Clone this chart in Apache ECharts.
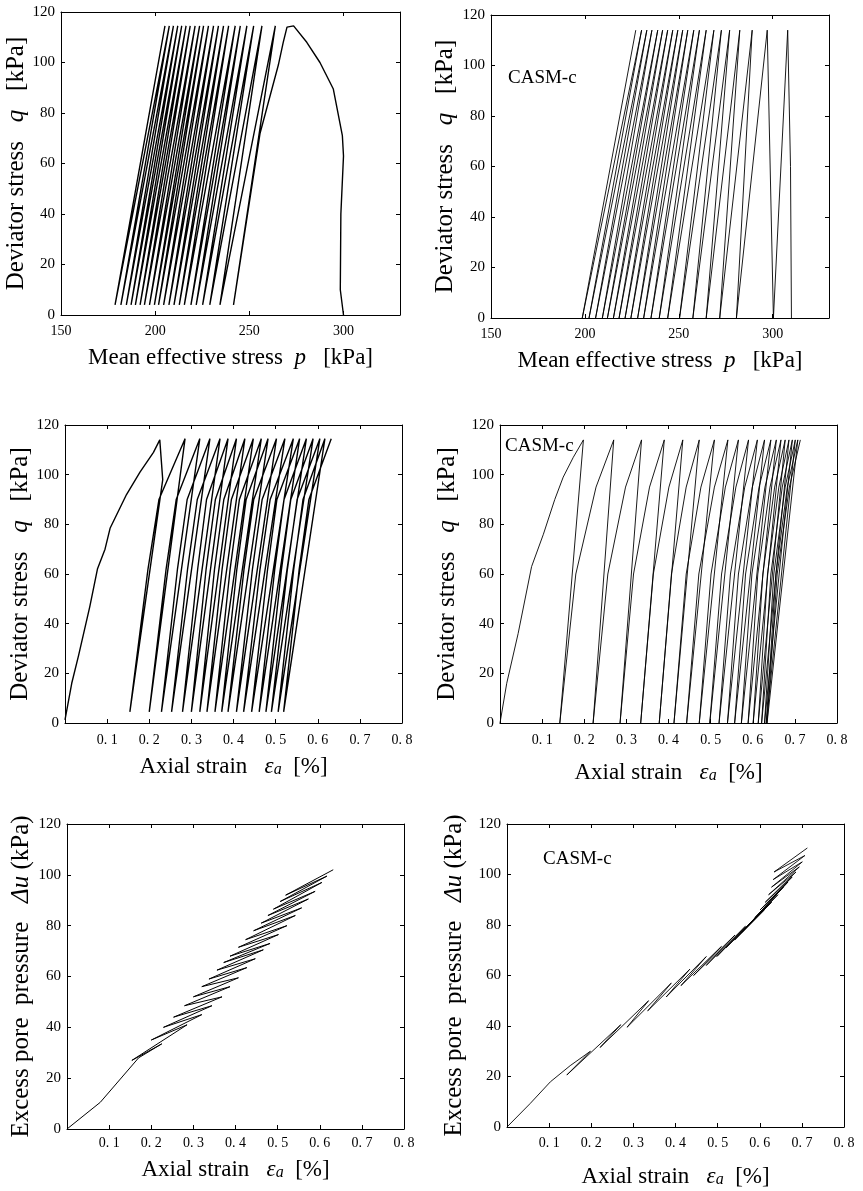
<!DOCTYPE html>
<html><head><meta charset="utf-8">
<script src="https://cdn.jsdelivr.net/npm/echarts/dist/echarts.min.js"></script>
<style>html,body{margin:0;padding:0;background:#fff}#c{width:863px;height:1191px}</style>
</head><body><div id="c"></div>
<script>
const FONT = 'Liberation Serif';

// ---------- Panel 1: test, mean effective stress p vs deviator stress q ----------
const P1_INIT_P = [300, 298.3, 298.6, 300, 299.4, 294.6, 287.5, 280.5, 273.5, 270, 268, 265.4, 255.7];
const P1_INIT_Q = [0, 10, 40, 63, 71, 89.5, 100, 108, 114.5, 114, 108, 99, 72];
const P1_BOT_P = [241.6, 234.4, 229.0, 225.2, 221.8, 219.0, 215.5, 212.8, 210.0, 207.3, 204.5, 201.8, 199.6, 197.0, 194.3, 192.0, 189.5, 187.2, 184.7, 181.8, 178.7];
const P1_TOP_P = [263.8, 256.7, 252.3, 248.7, 245.2, 242.5, 239.0, 236.3, 233.6, 231.0, 228.3, 225.7, 223.6, 221.2, 218.6, 216.4, 214.1, 212.0, 209.7, 207.5, 205.2];
const P1_BOT_Q = 4;
const P1_TOP_Q = 114.5;

// ---------- Panel 2: CASM-c, p vs q ----------
const P2_INIT_P = [310, 309.5, 308.0];
const P2_INIT_Q = [0, 60, 114];
const P2_BOT_P = [300.4, 280.7, 271.8, 264.6, 257.5, 250.4, 244.1, 239.6, 235.2, 231.3, 228.1, 224.5, 221.4, 218.2, 215.2, 212.0, 209.3, 205.7, 202.2, 198.6];
const P2_TOP_P = [297.1, 289.1, 282.5, 277.1, 272.7, 268.7, 264.6, 261.0, 258.0, 254.8, 252.1, 249.5, 246.8, 244.1, 241.4, 238.8, 235.7, 233.0, 230.2, 227.1];
const P2_BOT_Q = 0;
const P2_TOP_Q = 114;

// ---------- Panel 3: test, axial strain vs q ----------
const P3_INIT_E = [0, 0.016, 0.032, 0.059, 0.077, 0.095, 0.107, 0.146, 0.178, 0.21, 0.225, 0.232];
const P3_INIT_Q = [1.3, 16, 27, 47, 62, 70, 78.4, 92, 101, 109, 114, 98];
const P3_BOT_E = [0.154, 0.200, 0.229, 0.253, 0.279, 0.300, 0.320, 0.337, 0.356, 0.372, 0.387, 0.407, 0.424, 0.443, 0.461, 0.477, 0.490, 0.506, 0.519];
const P3_MID_E = [0.197, 0.240, 0.267, 0.291, 0.315, 0.335, 0.355, 0.373, 0.392, 0.408, 0.425, 0.445, 0.463, 0.481, 0.498, 0.514, 0.528, 0.543, 0.556];
const P3_MID2_E = [0.223, 0.264, 0.290, 0.314, 0.336, 0.357, 0.377, 0.395, 0.414, 0.430, 0.448, 0.468, 0.487, 0.503, 0.520, 0.536, 0.551, 0.565, 0.579];
const P3_TOP_E = [0.285, 0.320, 0.344, 0.368, 0.387, 0.407, 0.427, 0.447, 0.466, 0.482, 0.502, 0.522, 0.542, 0.557, 0.573, 0.589, 0.605, 0.617, 0.632];
const P3_BOT_Q = 4.5;
const P3_MID_Q = 62;
const P3_MID2_Q = 90;
const P3_TOP_Q = 114.5;

// ---------- Panel 4: CASM-c, axial strain vs q ----------
const P4_INIT_E = [0, 0.016, 0.043, 0.075, 0.103, 0.130, 0.150, 0.174, 0.198];
const P4_INIT_Q = [0, 16, 36, 63, 76, 90, 99, 107, 114];
const P4_BOT_E = [0.142, 0.221, 0.285, 0.334, 0.378, 0.413, 0.443, 0.473, 0.498, 0.520, 0.540, 0.557, 0.573, 0.589, 0.601, 0.613, 0.621, 0.628, 0.632, 0.634];
const P4_MID_E = [0.180, 0.256, 0.317, 0.364, 0.407, 0.442, 0.472, 0.501, 0.526, 0.547, 0.566, 0.583, 0.598, 0.612, 0.624, 0.635, 0.643, 0.650, 0.655, 0.658];
const P4_MID2_E = [0.228, 0.298, 0.355, 0.401, 0.442, 0.477, 0.509, 0.535, 0.560, 0.581, 0.599, 0.615, 0.629, 0.641, 0.652, 0.662, 0.670, 0.677, 0.682, 0.687];
const P4_TOP_E = [0.270, 0.336, 0.390, 0.434, 0.473, 0.509, 0.541, 0.566, 0.590, 0.611, 0.628, 0.643, 0.656, 0.667, 0.677, 0.686, 0.694, 0.701, 0.707, 0.713];
const P4_BOT_Q = 0;
const P4_MID_Q = 60;
const P4_MID2_Q = 95;
const P4_TOP_Q = 114;

// ---------- Panel 5: test, axial strain vs excess pore pressure ----------
const P5_INIT_E = [0, 0.079, 0.170, 0.225];
const P5_INIT_U = [0, 10.5, 28, 33.5];
const P5_BOT_U = [27, 35, 40, 44, 48.5, 52, 56, 59, 62.5, 65.5, 68, 71.5, 74.5, 78, 81, 84, 86.5, 89.5, 92];
const P5_TOP_U = [41, 45, 48.5, 52, 56, 59.5, 63.5, 67, 70.5, 73, 76.5, 80, 84, 87, 90.5, 93.5, 97, 99.5, 102];

// ---------- Panel 6: CASM-c, axial strain vs excess pore pressure ----------
const P6_INIT_E = [0, 0.055, 0.103, 0.150, 0.198];
const P6_INIT_U = [0, 9.3, 17.9, 24.3, 30];
const P6_BOT_U = [20.6, 31.5, 39.5, 46, 51.5, 56, 60, 64, 67.5, 71, 74, 77, 80, 83, 86, 89, 92, 95, 98, 101];
const P6_TOP_U = [40.5, 50, 57, 62.5, 67.5, 71.5, 76, 79.5, 83, 86, 89, 92, 95, 97, 99, 101, 103, 105, 107.5, 110.5];

// ---------- tick labels / titles ----------
const Y_TICKS = [0, 20, 40, 60, 80, 100, 120];
const P_TICKS = [150, 200, 250, 300];
const E_TICKS = ['0. 1', '0. 2', '0. 3', '0. 4', '0. 5', '0. 6', '0. 7', '0. 8'];
const NAME_P = '{r|Mean effective stress  }{i|p}{r|   [kPa]}';
const NAME_Q = '{r|Deviator stress   }{i|q}{r|   [kPa]}';
const NAME_E = '{r|Axial strain   }{i|ε}{s|a}{r|  [%]}';
const NAME_U = '{r|Excess pore  pressure   }{i|Δu}{r| (kPa)}';
const MODEL_LABEL = 'CASM-c';

// path: initial branch, then per cycle bottom -> (intermediate points) -> top
function cyc(initX, initY, bx, by, tx, ty, mids) {
  const d = initX.map((x, i) => [x, initY[i]]);
  for (let i = 0; i < bx.length; i++) {
    d.push([bx[i], Array.isArray(by) ? by[i] : by]);
    (mids || []).forEach(m => d.push([m[0][i], m[1]]));
    d.push([tx[i], Array.isArray(ty) ? ty[i] : ty]);
  }
  return d;
}

const grids = [
  {left: 61, top: 12, width: 339, height: 303},
  {left: 491, top: 15, width: 338, height: 303},
  {left: 65, top: 425, width: 337, height: 298},
  {left: 500, top: 425, width: 337, height: 298},
  {left: 67, top: 824, width: 337, height: 305},
  {left: 507, top: 824, width: 337, height: 303}
];

const nameStyle = (fs) => ({
  color: '#000', fontFamily: FONT, fontSize: fs,
  rich: {
    r: {color: '#000', fontFamily: FONT, fontSize: fs},
    i: {color: '#000', fontFamily: FONT, fontSize: fs, fontStyle: 'italic'},
    s: {color: '#000', fontFamily: FONT, fontSize: Math.round(fs * 0.68), fontStyle: 'italic', verticalAlign: 'bottom'}
  }
});

const pFmt = v => (P_TICKS.indexOf(Math.round(v)) >= 0 ? String(Math.round(v)) : '');
const eFmt = v => { const k = Math.round(v * 10); return k >= 1 && k <= 8 ? E_TICKS[k - 1] : ''; };
const yFmt = v => (Y_TICKS.indexOf(Math.round(v)) >= 0 ? String(Math.round(v)) : '');

const panelCfg = [
  {xmin: 150, xmax: 330, xint: 50, fmt: pFmt, xname: NAME_P, xgap: 31, lm: 9, yname: NAME_Q, ygap: 31, fs: 25},
  {xmin: 150, xmax: 330, xint: 50, fmt: pFmt, xname: NAME_P, xgap: 31, lm: 9, yname: NAME_Q, ygap: 33, fs: 25},
  {xmin: 0, xmax: 0.8, xint: 0.1, fmt: eFmt, xname: NAME_E, xgap: 32, lm: 10, yname: NAME_Q, ygap: 29, fs: 25},
  {xmin: 0, xmax: 0.8, xint: 0.1, fmt: eFmt, xname: NAME_E, xgap: 38, lm: 10, yname: NAME_Q, ygap: 40, fs: 25},
  {xmin: 0, xmax: 0.8, xint: 0.1, fmt: eFmt, xname: NAME_E, xgap: 29, lm: 7, yname: NAME_U, ygap: 33, fs: 25},
  {xmin: 0, xmax: 0.8, xint: 0.1, fmt: eFmt, xname: NAME_E, xgap: 38, lm: 9, yname: NAME_U, ygap: 40, fs: 25}
];

const xAxes = [], yAxes = [];
panelCfg.forEach((c, i) => {
  const common = {
    gridIndex: i, type: 'value', splitLine: {show: false},
    axisLine: {show: true, onZero: false, lineStyle: {color: '#000', width: 1}},
    axisTick: {show: true, inside: true, length: 4, lineStyle: {color: '#000', width: 1}}
  };
  xAxes.push(Object.assign({}, common, {
    min: c.xmin, max: c.xmax, interval: c.xint, position: 'bottom',
    axisLabel: {color: '#000', fontFamily: FONT, fontSize: 14, margin: c.lm, formatter: c.fmt},
    name: c.xname, nameLocation: 'middle', nameGap: c.xgap, nameTextStyle: nameStyle(23)
  }));
  xAxes.push(Object.assign({}, common, {
    min: c.xmin, max: c.xmax, interval: c.xint, position: 'top', axisLabel: {show: false}
  }));
  yAxes.push(Object.assign({}, common, {
    min: 0, max: 120, interval: 20, position: 'left',
    axisLabel: {color: '#000', fontFamily: FONT, fontSize: 15, margin: 6, formatter: yFmt},
    name: c.yname, nameLocation: 'middle', nameGap: c.ygap, nameRotate: 90, nameTextStyle: nameStyle(c.fs)
  }));
  yAxes.push(Object.assign({}, common, {
    min: 0, max: 120, interval: 20, position: 'right', axisLabel: {show: false}
  }));
});

const testStyle = {type: 'line', showSymbol: false, lineStyle: {color: '#000', width: 1.4}, silent: true, animation: false};
const modelStyle = {type: 'line', showSymbol: false, lineStyle: {color: '#000', width: 0.9}, silent: true, animation: false};

const series = [
  Object.assign({}, testStyle, {xAxisIndex: 0, yAxisIndex: 0,
    data: cyc(P1_INIT_P, P1_INIT_Q, P1_BOT_P, P1_BOT_Q, P1_TOP_P, P1_TOP_Q)}),
  Object.assign({}, modelStyle, {xAxisIndex: 2, yAxisIndex: 2,
    data: cyc(P2_INIT_P, P2_INIT_Q, P2_BOT_P, P2_BOT_Q, P2_TOP_P, P2_TOP_Q)}),
  Object.assign({}, testStyle, {xAxisIndex: 4, yAxisIndex: 4,
    data: cyc(P3_INIT_E, P3_INIT_Q, P3_BOT_E, P3_BOT_Q, P3_TOP_E, P3_TOP_Q,
      [[P3_MID_E, P3_MID_Q], [P3_MID2_E, P3_MID2_Q]])}),
  Object.assign({}, modelStyle, {xAxisIndex: 6, yAxisIndex: 6,
    data: cyc(P4_INIT_E, P4_INIT_Q, P4_BOT_E, P4_BOT_Q, P4_TOP_E, P4_TOP_Q,
      [[P4_MID_E, P4_MID_Q], [P4_MID2_E, P4_MID2_Q]])}),
  Object.assign({}, modelStyle, {xAxisIndex: 8, yAxisIndex: 8, lineStyle: {color: '#000', width: 1},
    data: cyc(P5_INIT_E, P5_INIT_U, P3_BOT_E, P5_BOT_U, P3_TOP_E, P5_TOP_U)}),
  Object.assign({}, modelStyle, {xAxisIndex: 10, yAxisIndex: 10,
    data: cyc(P6_INIT_E, P6_INIT_U, P4_BOT_E, P6_BOT_U, P4_TOP_E, P6_TOP_U)})
];

const labelFont = '19px "Liberation Serif", serif';
const graphic = [
  {type: 'text', left: 508, top: 69, style: {text: MODEL_LABEL, font: labelFont, fill: '#000'}},
  {type: 'text', left: 505, top: 437, style: {text: MODEL_LABEL, font: labelFont, fill: '#000'}},
  {type: 'text', left: 543, top: 850, style: {text: MODEL_LABEL, font: labelFont, fill: '#000'}}
];

const chart = echarts.init(document.getElementById('c'), null, {renderer: 'canvas'});
chart.setOption({
  backgroundColor: '#fff',
  animation: false,
  grid: grids.map(g => Object.assign({show: false, containLabel: false}, g)),
  xAxis: xAxes,
  yAxis: yAxes,
  series: series,
  graphic: graphic
});
</script></body></html>
